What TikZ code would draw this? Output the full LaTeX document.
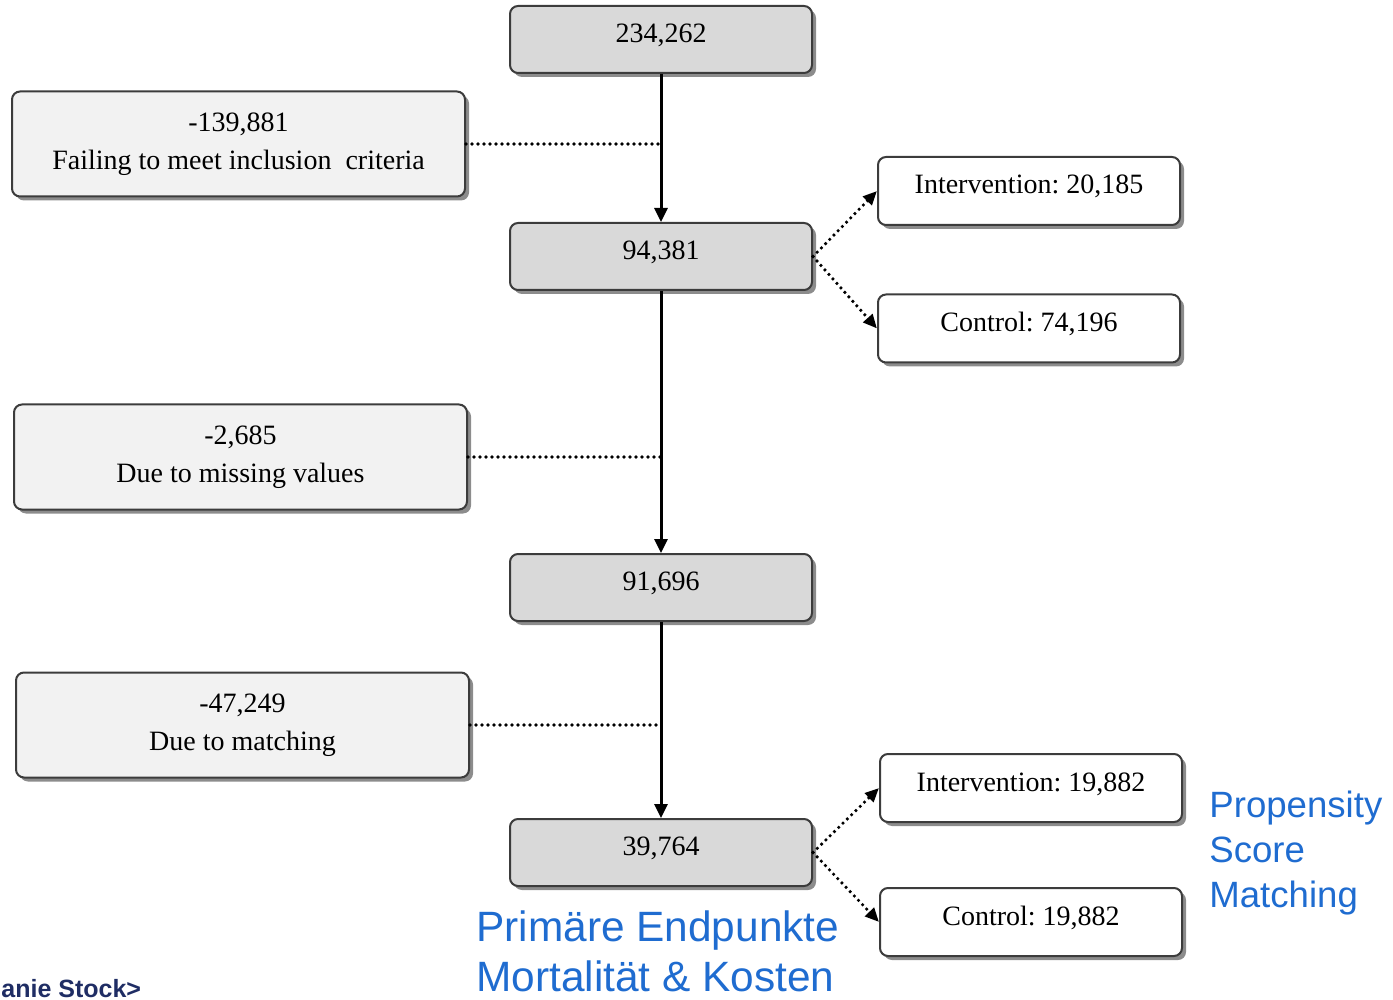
\documentclass[tikz,border=0pt]{standalone}
\usepackage{fontspec}
\setmainfont{Liberation Serif}
\newfontfamily\arialfont{Liberation Sans}
\usetikzlibrary{arrows.meta,shadows,calc}
\definecolor{boxgray}{RGB}{217,217,217}
\definecolor{sidegray}{RGB}{242,242,242}
\definecolor{edgegray}{RGB}{60,60,60}
\definecolor{pptblue}{RGB}{31,108,208}
\definecolor{navy}{RGB}{31,45,100}
\frenchspacing
\tikzset{
  basebox/.style={draw=edgegray, line width=1pt, rounded corners=4pt,
    drop shadow={shadow xshift=2pt, shadow yshift=-2pt, opacity=0.6, fill=black!75},
    font=\fontsize{14pt}{19pt}\selectfont, align=center, inner sep=0pt},
  mainbox/.style={basebox, fill=boxgray, minimum width=151pt, minimum height=33.5pt, text height=10pt, text depth=7pt},
  sidebox/.style={basebox, fill=sidegray, minimum width=226.5pt, minimum height=52.5pt},
  grpbox/.style={basebox, fill=white, minimum width=151pt, minimum height=34pt, text height=10pt, text depth=7pt},
  flowarrow/.style={line width=1.5pt, -{Triangle[length=7pt,width=6.5pt]}},
  dotline/.style={line width=1.8pt, line cap=round, dash pattern=on 0pt off 3pt},
  dotarrow/.style={dotline, -{Triangle[length=7pt,width=6pt]}},
  bluetext/.style={font=\arialfont\fontsize{21.2pt}{25pt}\selectfont, text=pptblue, align=left, inner sep=0pt},
}
\begin{document}
\begin{tikzpicture}[x=0.5pt,y=-0.5pt]
\useasboundingbox (0,0) rectangle (1393,1000);
% main boxes
\node[mainbox] (n1) at (661,39.5) {234,262};
\node[mainbox] (n2) at (661,256.5) {94,381};
\node[mainbox] (n3) at (661,587.5) {91,696};
\node[mainbox] (n4) at (661,852.5) {39,764};
% side boxes
\node[sidebox] (a1) at (238.5,144) {-139,881\\Failing to meet inclusion\ \ criteria};
\node[sidebox] (a2) at (240.5,457) {-2,685\\Due to missing\ values};
\node[sidebox] (a3) at (242.5,725) {-47,249\\Due to matching};
% group boxes
\node[grpbox] (i1) at (1029,191) {Intervention: 20,185};
\node[grpbox] (c1) at (1029,328.5) {Control: 74,196};
\node[grpbox] (i2) at (1031,788) {Intervention: 19,882};
\node[grpbox] (c2) at (1031,922) {Control: 19,882};
% main flow
\draw[flowarrow] (n1.south) -- (n2.north);
\draw[flowarrow] (n2.south) -- (n3.north);
\draw[flowarrow] (n3.south) -- (n4.north);
% exclusions
\draw[dotline] (a1.east) -- (a1.east -| n1.south);
\draw[dotline] (a2.east) -- (a2.east -| n2.south);
\draw[dotline] (a3.east) -- (a3.east -| n3.south);
% split arrows
\draw[dotarrow] (n2.east) -- (i1.west);
\draw[dotarrow] (n2.east) -- (c1.west);
\draw[dotarrow] (n4.east) -- (i2.west);
\draw[dotarrow] (n4.east) -- (c2.west);
% blue annotations
\node[bluetext, anchor=north west] (pe) at (476,910) {Primäre Endpunkte\\Mortalität \& Kosten};
\node[bluetext, anchor=north west, font=\arialfont\fontsize{18.3pt}{22.5pt}\selectfont] (psm) at (1209,791) {Propensity\\Score\\Matching};
\node[anchor=base west, inner sep=0pt, text=navy, font=\arialfont\bfseries\fontsize{12.5pt}{14pt}\selectfont] (auth) at (1,997) {anie Stock>};
\end{tikzpicture}
\end{document}
